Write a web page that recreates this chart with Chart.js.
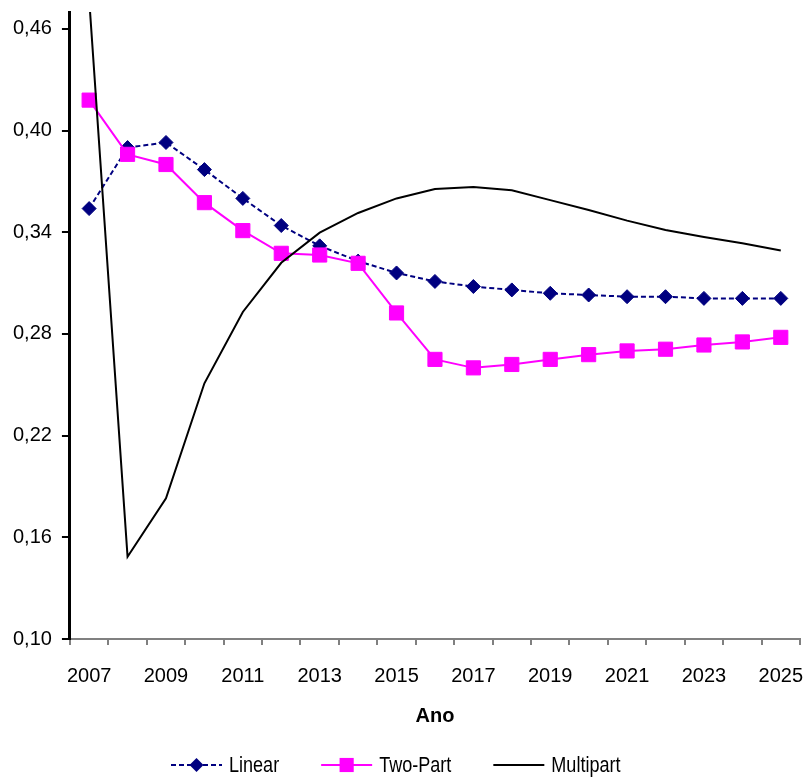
<!DOCTYPE html>
<html><head><meta charset="utf-8">
<script src="https://cdn.jsdelivr.net/npm/chart.js@4.4.1/dist/chart.umd.min.js"></script>
<style>html,body{margin:0;padding:0;background:#fff;}</style>
</head><body>
<canvas id="c" width="811" height="779" style="width:811px;height:779px;display:block"></canvas>
<script>
const years = ['2007','2008','2009','2010','2011','2012','2013','2014','2015','2016','2017','2018','2019','2020','2021','2022','2023','2024','2025'];
const linearValues = [0.354,0.390,0.393,0.377,0.360,0.344,0.332,0.323,0.316,0.311,0.308,0.306,0.304,0.303,0.302,0.302,0.301,0.301,0.301];
const twoPartValues = [0.418,0.386,0.380,0.3575,0.341,0.3276,0.3266,0.3217,0.2924,0.265,0.260,0.262,0.265,0.2678,0.270,0.271,0.2735,0.2753,0.278];
const multipartValues = [0.478,0.1485,0.183,0.2509,0.293,0.322,0.3398,0.3514,0.360,0.3656,0.3667,0.3648,0.359,0.3532,0.3469,0.3414,0.3372,0.3335,0.3292];
const yTickValues = [0.10,0.16,0.22,0.28,0.34,0.40,0.46];
const seriesNames = ['Linear','Two-Part','Multipart'];
const xAxisTitle = 'Ano';

const FONT = '"Liberation Sans", Arial, sans-serif';

const legendPlugin = {
  id: 'bottomLegend',
  afterDraw(chart) {
    const ctx = chart.ctx;
    const y = 765;
    let x = 171;
    const sampleW = 51;
    const squeeze = 0.82;
    ctx.save();
    ctx.font = '22px ' + FONT;
    ctx.textBaseline = 'middle';
    ctx.textAlign = 'left';
    chart.data.datasets.forEach((ds) => {
      ctx.strokeStyle = ds.borderColor;
      ctx.lineWidth = ds.borderWidth;
      ctx.setLineDash(ds.borderDash || []);
      ctx.beginPath(); ctx.moveTo(x, y); ctx.lineTo(x + sampleW, y); ctx.stroke();
      ctx.setLineDash([]);
      const cx = x + sampleW / 2;
      ctx.fillStyle = ds.pointBackgroundColor || ds.borderColor;
      if (ds.pointStyle === 'rectRot' && ds.pointRadius > 0) {
        const r = ds.pointRadius;
        ctx.beginPath(); ctx.moveTo(cx, y - r); ctx.lineTo(cx + r, y); ctx.lineTo(cx, y + r); ctx.lineTo(cx - r, y); ctx.closePath(); ctx.fill();
      } else if (ds.pointStyle === 'rect' && ds.pointRadius > 0) {
        const s = ds.pointRadius * Math.SQRT1_2;
        ctx.fillRect(cx - s, y - s, 2 * s, 2 * s);
      }
      const tx = x + sampleW + 7;
      ctx.fillStyle = '#000';
      ctx.save();
      ctx.translate(tx, y + 1);
      ctx.scale(squeeze, 1);
      ctx.fillText(ds.label, 0, 0);
      ctx.restore();
      x = tx + ctx.measureText(ds.label).width * squeeze + 42;
    });
    ctx.restore();
  }
};

new Chart(document.getElementById('c'), {
  type: 'line',
  data: {
    labels: years,
    datasets: [
      { label: seriesNames[0], data: linearValues, borderColor: '#000080', backgroundColor: '#000080',
        pointBackgroundColor: '#000080', pointBorderColor: '#000080', borderWidth: 2, borderDash: [5,3],
        pointStyle: 'rectRot', pointRadius: 7, pointBorderWidth: 1, pointHoverRadius: 7, fill: false, tension: 0, order: 2 },
      { label: seriesNames[1], data: twoPartValues, borderColor: '#FF00FF', backgroundColor: '#FF00FF',
        pointBackgroundColor: '#FF00FF', pointBorderColor: '#FF00FF', borderWidth: 2,
        pointStyle: 'rect', pointRadius: 10, pointBorderWidth: 1, pointHoverRadius: 10, fill: false, tension: 0, order: 1 },
      { label: seriesNames[2], data: multipartValues, borderColor: '#000000', backgroundColor: '#000000',
        borderWidth: 2, pointRadius: 0, pointHoverRadius: 0, fill: false, tension: 0, order: 0 }
    ]
  },
  options: {
    responsive: false,
    animation: false,
    devicePixelRatio: 1,
    layout: { padding: { left: 3, right: 11, top: 12, bottom: 47 } },
    plugins: { legend: { display: false }, tooltip: { enabled: false }, title: { display: false } },
    scales: {
      x: {
        type: 'category',
        offset: true,
        afterFit: (scale) => { scale.paddingLeft = 0; scale.paddingRight = 0; },
        grid: { display: true, offset: true, drawOnChartArea: false, drawTicks: true, tickLength: 6, color: '#808080', lineWidth: 2 },
        border: { display: true, color: '#808080', width: 2 },
        ticks: {
          autoSkip: false, maxRotation: 0, minRotation: 0, padding: 19, color: '#000',
          font: { family: FONT, size: 20 },
          callback: function(val, idx) { return idx % 2 === 0 ? years[idx] : ''; }
        },
        title: { display: true, text: xAxisTitle, color: '#000', font: { family: FONT, size: 20, weight: 'bold' }, padding: { top: -3, bottom: 4 } }
      },
      y: {
        min: 0.10, max: 0.47,
        afterBuildTicks: (scale) => { scale.ticks = yTickValues.map(v => ({ value: v })); },
        afterFit: (scale) => { scale.paddingTop = 0; scale.paddingBottom = 0; },
        grid: { display: true, drawOnChartArea: false, drawTicks: true, tickLength: 8, color: '#000', lineWidth: 2 },
        border: { display: true, color: '#000', width: 3 },
        ticks: {
          padding: 10, color: '#000', font: { family: FONT, size: 20 },
          callback: (v) => Number(v).toFixed(2).replace('.', ',')
        }
      }
    }
  },
  plugins: [legendPlugin]
});
</script>
</body></html>
